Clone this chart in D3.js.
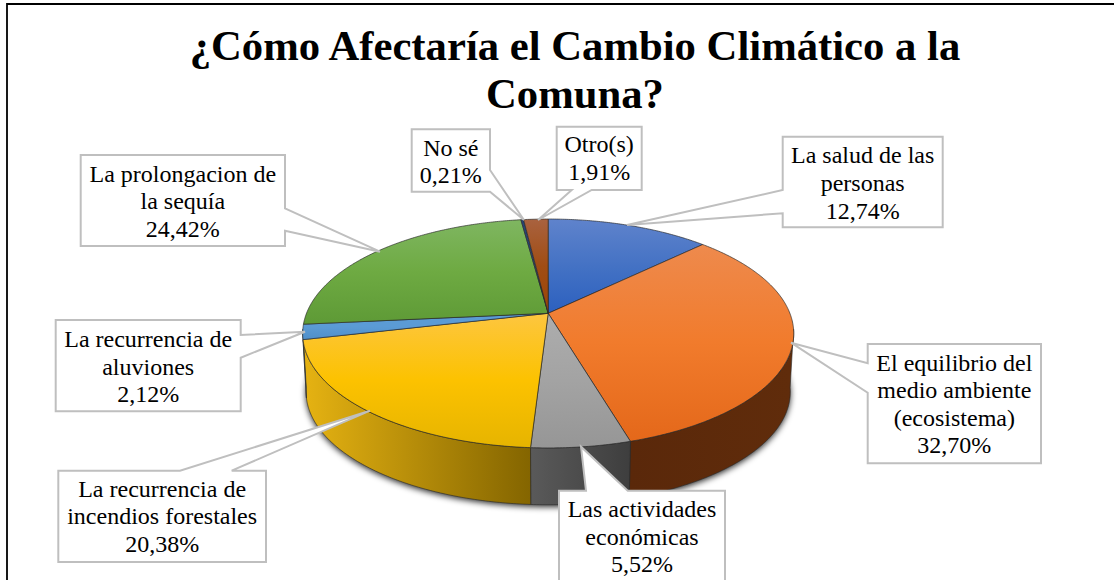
<!DOCTYPE html>
<html lang="es">
<head>
<meta charset="utf-8">
<title>¿Cómo Afectaría el Cambio Climático a la Comuna?</title>
<script src="https://cdn.jsdelivr.net/npm/d3@7"></script>
<style>
html,body{margin:0;padding:0;background:#fff;overflow:hidden}
svg{display:block}
text{font-family:"Liberation Serif","Times New Roman",serif;fill:#000}
</style>
</head>
<body>
<div id="chart"></div>
<script>
const titleLines = ["¿Cómo Afectaría el Cambio Climático a la", "Comuna?"];
const categories = [
  "La salud de las personas",
  "El equilibrio del medio ambiente (ecosistema)",
  "Las actividades económicas",
  "La recurrencia de incendios forestales",
  "La recurrencia de aluviones",
  "La prolongacion de la sequía",
  "No sé",
  "Otro(s)"
];
const values = [12.74, 32.70, 5.52, 20.38, 2.12, 24.42, 0.21, 1.91];
const categoryLines = [
  ["La salud de las", "personas"],
  ["El equilibrio del", "medio ambiente", "(ecosistema)"],
  ["Las actividades", "económicas"],
  ["La recurrencia de", "incendios forestales"],
  ["La recurrencia de", "aluviones"],
  ["La prolongacion de", "la sequía"],
  ["No sé"],
  ["Otro(s)"]
];
// top-face gradient: light, base, dark
const topColors = [
  ["#5f83cc", "#4472c4", "#2c60bf"],
  ["#ee8a4d", "#f17b2c", "#e4681a"],
  ["#adadad", "#a3a3a3", "#969696"],
  ["#fdc640", "#fcc200", "#e6b400"],
  ["#5b9bd5", "#5b9bd5", "#4f8fca"],
  ["#7fb661", "#6eaa42", "#5e9a36"],
  ["#264478", "#264478", "#264478"],
  ["#a9623f", "#a04d14", "#9c4506"]
];
// side-wall gradient: left, right
const wallColors = [
  ["#223962", "#223962"],
  ["#5a280a", "#602c0b"],
  ["#5a5a5a", "#3e3e3e"],
  ["#e6b312", "#846500"],
  ["#3a6a96", "#3a6a96"],
  ["#4b7a2e", "#4b7a2e"],
  ["#1a2f54", "#1a2f54"],
  ["#6e3209", "#6e3209"]
];
// callout geometry, same order as categories
const calloutBoxes = [
  {x0:782.7, y0:136.7, x1:942.7, y1:227.3, side:"left",   a:190,   b:213.3, tip:[627,225],     base:[162.7,190.7,218.7]},
  {x0:867.7, y0:344,   x1:1041,  y1:463.3, side:"left",   a:363.3, b:392.7, tip:[791,342.7],   base:[371,398.3,426,453.3]},
  {x0:559,   y0:490.7, x1:725,   y1:600,   side:"top",    a:586,   b:627.7, tip:[581,446.7],   base:[516.7,544.7,571.7]},
  {x0:58.3,  y0:470.7, x1:266,   y1:562,   side:"top",    a:180,   b:231.7, tip:[370,410.7],   base:[496.7,524,551.7]},
  {x0:55.7,  y0:320,   x1:240.7, y1:411.3, side:"right",  a:335,   b:357.7, tip:[305,331.7],   base:[346.7,374.7,402]},
  {x0:80.7,  y0:155,   x1:285,   y1:246,   side:"right",  a:208.3, b:230.7, tip:[380,251.7],   base:[181.7,209,236.7]},
  {x0:411.7, y0:129.3, x1:490,   y1:191.7, side:"right",  a:170,   b:191.7, tip:[524,220],     base:[155.7,182.7]},
  {x0:556.7, y0:126.7, x1:641.7, y1:190,   side:"bottom", a:571.7, b:591.7, tip:[538,220],     base:[152,180]}
];

const W = 1114, H = 580;
const svg = d3.select("#chart").append("svg").attr("width", W).attr("height", H);
const defs = svg.append("defs");

// perspective projection of the pie disc
const apex = [548.2, 313.3], A = 241.7, B = 110.9, P = 0.1763;
const depthScale = 0.986, depthY = 372;
function project(theta, r, lower) {
  const u = r * Math.sin(theta), v = r * Math.cos(theta), w = 1 + P * v;
  const s = lower ? depthScale : 1, y0 = lower ? depthY : apex[1];
  return [apex[0] + s * A * u / w, y0 - s * B * v / w];
}
const line = d3.line();
function arcPoints(a0, a1, lower) {
  const n = Math.max(2, Math.ceil(Math.abs(a1 - a0) / 0.01));
  return d3.range(n + 1).map(i => project(a0 + (a1 - a0) * i / n, 1, lower));
}

const pie = d3.pie().sort(null).value(d => d)(values);
const percent = d3.formatLocale({decimal: ",", thousands: ".", grouping: [3], currency: ["", ""]}).format(".2f");

// gradients
topColors.forEach((c, i) => {
  const g = defs.append("linearGradient").attr("id", "top" + i)
    .attr("x1", 0).attr("x2", 0).attr("y1", 0).attr("y2", 1);
  c.forEach((col, k) => g.append("stop").attr("offset", k / 2).attr("stop-color", col));
});
const wallRange = [
  null, [630, 790], [530, 630], [303, 530], null, null, null, null
];
wallColors.forEach((c, i) => {
  const r = wallRange[i] || [300, 800];
  const g = defs.append("linearGradient").attr("id", "wall" + i)
    .attr("gradientUnits", "userSpaceOnUse")
    .attr("x1", r[0]).attr("x2", r[1]).attr("y1", 0).attr("y2", 0);
  c.forEach((col, k) => g.append("stop").attr("offset", k).attr("stop-color", col));
});
defs.append("filter").attr("id", "soft").attr("x", "-5%").attr("y", "-5%").attr("width", "110%").attr("height", "115%")
  .append("feGaussianBlur").attr("stdDeviation", 3);

// shadow
const tau = 2 * Math.PI;
svg.append("path")
  .attr("d", line(arcPoints(0, tau, true)) + "Z")
  .attr("transform", "translate(0,2)")
  .attr("fill", "#000").attr("fill-opacity", 0.85)
  .attr("filter", "url(#soft)");

// side walls
const VIS0 = 98 * Math.PI / 180, VIS1 = 262 * Math.PI / 180;
const walls = svg.append("g");
pie.forEach((d, i) => {
  const a0 = Math.max(d.startAngle, VIS0), a1 = Math.min(d.endAngle, VIS1);
  if (a1 <= a0) return;
  const pts = arcPoints(a0, a1, false).concat(arcPoints(a1, a0, true));
  walls.append("path").attr("d", line(pts) + "Z")
    .attr("fill", `url(#wall${i})`)
    .attr("stroke", "#2a2a2a").attr("stroke-width", 0.8).attr("stroke-opacity", 0.75)
    .attr("stroke-linejoin", "round");
});

// top faces
svg.append("g").selectAll("path").data(pie).join("path")
  .attr("d", d => line([apex].concat(arcPoints(d.startAngle, d.endAngle, false))) + "Z")
  .attr("fill", (d, i) => `url(#top${i})`)
  .attr("stroke", "#2a2a2a").attr("stroke-width", 0.8).attr("stroke-opacity", 0.85)
  .attr("stroke-linejoin", "round");

// callouts
function calloutPath(b) {
  const t = b.tip;
  const pts = [[b.x0, b.y0]];
  if (b.side === "top") pts.push([b.a, b.y0], t, [b.b, b.y0]);
  pts.push([b.x1, b.y0]);
  if (b.side === "right") pts.push([b.x1, b.a], t, [b.x1, b.b]);
  pts.push([b.x1, b.y1]);
  if (b.side === "bottom") pts.push([b.b, b.y1], t, [b.a, b.y1]);
  pts.push([b.x0, b.y1]);
  if (b.side === "left") pts.push([b.x0, b.b], t, [b.x0, b.a]);
  return line(pts) + "Z";
}
const callouts = svg.append("g").selectAll("g").data(pie).join("g");
callouts.append("path")
  .attr("d", (d, i) => calloutPath(calloutBoxes[i]))
  .attr("fill", "#fff").attr("stroke", "#bfbfbf").attr("stroke-width", 2)
  .attr("stroke-linejoin", "miter");
callouts.each(function (d, i) {
  const b = calloutBoxes[i];
  const lines = categoryLines[i].concat(percent(d.data) + "%");
  d3.select(this).selectAll("text").data(lines).join("text")
    .attr("x", (b.x0 + b.x1) / 2)
    .attr("y", (t, k) => b.base[k])
    .attr("text-anchor", "middle")
    .attr("font-size", 24)
    .text(t => t);
});

// title
svg.append("g").selectAll("text").data(titleLines).join("text")
  .attr("x", 575)
  .attr("y", (t, i) => [59.5, 108][i])
  .attr("text-anchor", "middle")
  .attr("font-size", 42.7)
  .attr("font-weight", 700)
  .text(t => t);

// frame (left and top edges)
svg.append("path").attr("d", "M1114,4H7V580")
  .attr("fill", "none").attr("stroke", "#000").attr("stroke-width", 1.8);
</script>
</body>
</html>
